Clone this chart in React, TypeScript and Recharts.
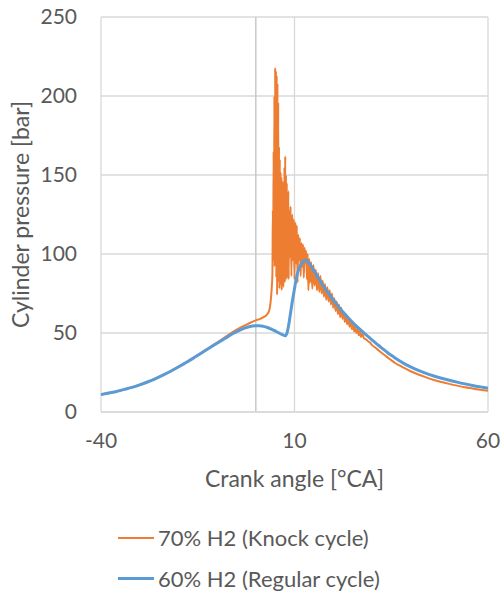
import React from 'react';
import { LineChart, Line, XAxis, YAxis, CartesianGrid, ReferenceLine, Label } from 'recharts';

// crank angle [°CA], pressure [bar]
const regularAngles = [
  -40, -38, -36, -34, -32, -30, -28, -26, -24, -22, -20, -18, -16, -14, -12, -10, -8, -6, -4, -2,
  0, 1, 2, 3, 4, 5, 6, 7, 7.6, 8, 8.5, 9, 9.5, 10, 10.5, 11, 11.5, 12, 12.8, 14, 15, 16, 17,
  18, 19, 20, 21, 22, 23, 24, 25, 26, 27, 28, 29, 30, 31, 32, 33, 34, 35, 36, 37, 38, 40, 42, 44,
  46, 48, 50, 52, 54, 56, 58, 60,
];
const regularPressure = [
  11, 12, 13, 14.3, 15.6, 17.2, 19, 21, 23.3, 25.8, 28.5, 31.3, 34.3, 37.4, 40.5, 43.5, 46.5, 49.5, 52, 53.8,
  54.6, 54.6, 54.2, 53.5, 52.5, 51.3, 50, 48.8, 48.2, 49.5, 55, 63, 71, 78, 85, 89.5, 92.5, 94.5, 96, 93.5, 89.5, 85.5, 81.5,
  77.8, 74.3, 71, 67.8, 64.8, 62, 59.3, 56.8, 54.4, 52.1, 49.9, 47.8, 45.7, 43.6, 41.6, 39.6, 37.7, 35.9, 34.2, 32.6, 31.1, 28.5, 26.3, 24.4,
  22.8, 21.4, 20.1, 18.9, 17.8, 16.8, 15.9, 15,
];

const knockAngles = [
  -40, -36, -32, -28, -24, -20, -16, -12, -10, -8, -6, -4, -2, 0, 1, 2, 3, 3.5, 3.8, 4.1, 4.3,
  4.4, 4.5, 4.6, 4.7, 4.8, 4.9, 5.0, 5.1, 5.2, 5.3, 5.4, 5.5, 5.6, 5.7, 5.8, 5.9, 6.0, 6.1, 6.2, 6.3,
  6.4, 6.5, 6.6, 6.7, 6.8, 6.9, 7.0, 7.1, 7.2, 7.3, 7.4, 7.5, 7.6, 7.7, 7.8, 7.9, 8.0, 8.1, 8.2, 8.3,
  8.4, 8.5, 8.6, 8.8, 9.0, 9.2, 9.4, 9.6, 9.8, 10.0, 10.2, 10.4, 10.6, 10.8, 11.0, 11.2, 11.4, 11.6,
  11.8, 12.0, 12.2, 12.4, 12.6, 12.8, 13.0, 13.2, 13.4, 13.6, 13.8, 14.0, 14.3, 14.6, 14.9, 15.2,
  15.5, 15.8, 16.1, 16.4, 16.7, 17.0, 17.3, 17.6, 17.9, 18.2, 18.5, 18.8, 19.1, 19.4, 19.7, 20.0,
  20.3, 20.6, 20.9, 21.2, 21.5, 21.8, 22.1, 22.4, 22.7, 23.0, 23.3, 23.6, 23.9, 24.2, 24.5, 24.8,
  25.1, 25.4, 25.7, 26.0, 26.3, 26.6, 26.9, 27.2, 27.5, 28, 28.5, 29, 29.5, 30, 31, 32, 33, 34, 35,
  36, 37, 38, 40, 42, 44, 46, 48, 50, 52, 54, 56, 58, 60,
];
const knockPressure = [
  11, 13, 15.6, 19, 23.3, 28.5, 34.4, 40.8, 44, 47.3, 50.6, 53.4, 55.8, 58, 58.8, 60, 62, 64.5, 69, 78, 88,
  128, 95, 165, 102, 200, 92, 218, 110, 216, 85, 213, 74, 208, 90, 196, 82, 168, 78, 160, 95,
  152, 80, 149, 77, 140, 92, 146, 79, 138, 96, 155, 82, 162, 88, 150, 84, 145, 100, 132, 85,
  140, 84, 128, 98, 130, 86, 125, 96, 122, 84, 120, 94, 118, 82, 112, 96, 110, 86,
  107, 92, 106, 85, 104, 94, 102, 84, 100, 77, 97, 82, 95, 78, 93, 80,
  90, 77, 88, 76, 86, 75, 83, 73, 81, 71, 79, 70, 77, 68, 75, 66,
  72, 64, 70, 62, 68, 60, 66, 59, 63, 57, 62, 55.5, 60, 54, 58, 52.5,
  56, 51, 54, 50, 52.5, 48.5, 51, 47.5, 49.5, 46.5, 46, 44.8, 44, 42.5, 40.5, 38.5, 36.5, 34.6, 32.8,
  31, 29.6, 28.3, 25.8, 23.7, 21.9, 20.3, 19, 17.8, 16.7, 15.7, 14.9, 14.1, 13.4,
];

const xTicks = [-40, 10, 60];
const yTicks = [0, 50, 100, 150, 200, 250];

const series = [
  { name: '70% H2 (Knock cycle)', color: '#ED7D31', width: 2 },
  { name: '60% H2 (Regular cycle)', color: '#5B9BD5', width: 3 },
];

const regularData = regularAngles.map((angle, i) => ({ angle, pressure: regularPressure[i] }));
const knockData = knockAngles.map((angle, i) => ({ angle, pressure: knockPressure[i] }));

const FONT = 'Lato, "Open Sans", sans-serif';
const TEXT = '#595959';

export default function App() {
  return (
    <div style={{ position: 'absolute', left: 0, top: 0, width: 501, height: 592, background: '#fff' }}>
      <LineChart width={501} height={592} margin={{ top: 17, right: 13, left: 0, bottom: 100 }}>
        <CartesianGrid stroke="#d9d9d9" strokeWidth={1.3} />
        <XAxis
          type="number"
          dataKey="angle"
          domain={[-40, 60]}
          ticks={xTicks}
          allowDuplicatedCategory={false}
          tick={{ fontSize: 21, fill: TEXT, fontFamily: FONT }}
          tickLine={false}
          tickSize={0}
          tickMargin={21}
          axisLine={{ stroke: '#d9d9d9', strokeWidth: 1.3 }}
          height={80}
        >
          <Label value="Crank angle [°CA]" position="insideBottom" offset={5} style={{ fontSize: 23, fill: TEXT, fontFamily: FONT }} />
        </XAxis>
        <YAxis
          type="number"
          domain={[0, 250]}
          ticks={yTicks}
          width={101}
          tick={{ fontSize: 21, fill: TEXT, fontFamily: FONT }}
          tickLine={false}
          tickSize={0}
          tickMargin={24}
          axisLine={false}
        >
          <Label
            value="Cylinder pressure [bar]"
            angle={-90}
            position="insideLeft"
            offset={21}
            style={{ fontSize: 23, fill: TEXT, fontFamily: FONT, textAnchor: 'middle' }}
          />
        </YAxis>
        <ReferenceLine x={0} stroke="#c8c8c8" strokeWidth={1.5} />
        <Line
          data={knockData}
          dataKey="pressure"
          name={series[0].name}
          type="monotone"
          stroke={series[0].color}
          strokeWidth={series[0].width}
          dot={false}
          isAnimationActive={false}
        />
        <Line
          data={regularData}
          dataKey="pressure"
          name={series[1].name}
          type="monotone"
          stroke={series[1].color}
          strokeWidth={series[1].width}
          dot={false}
          isAnimationActive={false}
        />
      </LineChart>
      <div style={{ position: 'absolute', left: 118, top: 517, fontFamily: FONT, fontSize: 22, color: TEXT }}>
        {series.map((s, i) => (
          <div key={s.name} style={{ display: 'flex', alignItems: 'center', height: 41 }}>
            <span style={{ display: 'inline-block', width: 36, height: i === 0 ? 2 : 3, background: s.color, marginRight: 4 }} />
            <span>{s.name}</span>
          </div>
        ))}
      </div>
    </div>
  );
}
